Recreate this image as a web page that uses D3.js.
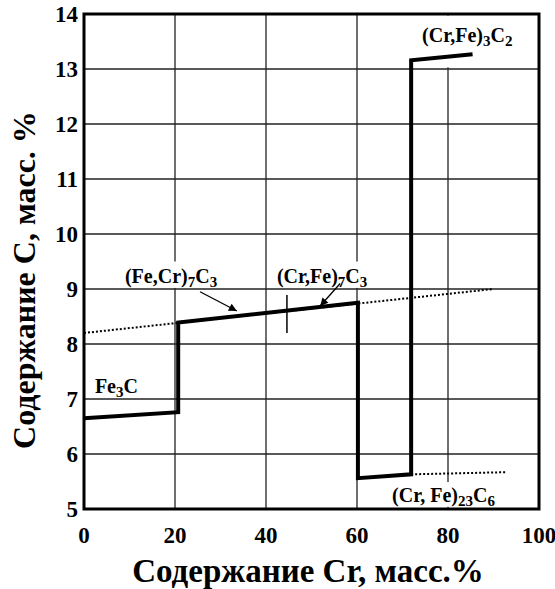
<!DOCTYPE html>
<html>
<head>
<meta charset="utf-8">
<script src="https://cdn.jsdelivr.net/npm/d3@7"></script>
<style>
  body { margin: 0; background: #fff; }
  text { font-family: "Liberation Serif", "Times New Roman", serif; font-weight: bold; fill: #000; }
</style>
</head>
<body>
<script>
// phase boundary line (Cr mass %, C mass %)
var crLine = [0, 20.7, 20.7, 60.2, 60.2, 71.9, 71.9, 85.4];
var cLine = [6.65, 6.76, 8.39, 8.75, 5.56, 5.63, 13.16, 13.27];
// dotted extrapolations
var crDot1 = [0, 90];
var cDot1 = [8.2, 9.0];
var crDot2 = [71.9, 93];
var cDot2 = [5.63, 5.67];
var xTicks = [0, 20, 40, 60, 80, 100];
var yTicks = [5, 6, 7, 8, 9, 10, 11, 12, 13, 14];

var width = 555, height = 589;
var margin = { left: 84, top: 14, right: 16, bottom: 80 };
var svg = d3.select('body').append('svg')
    .attr('width', width)
    .attr('height', height);

var x = d3.scaleLinear().domain([0, 100]).range([margin.left, width - margin.right]);
var y = d3.scaleLinear().domain([5, 14]).range([height - margin.bottom, margin.top]);

// grid
var grid = svg.append('g').attr('stroke', '#222').attr('stroke-width', 1.3);
grid.selectAll('.vg').data(xTicks.slice(1, -1)).enter().append('line')
    .attr('x1', d => x(d)).attr('x2', d => x(d))
    .attr('y1', y(5)).attr('y2', y(14));
grid.selectAll('.hg').data(yTicks.slice(1, -1)).enter().append('line')
    .attr('x1', x(0)).attr('x2', x(100))
    .attr('y1', d => y(d)).attr('y2', d => y(d));

// label boxes that hide the grid
var boxes = [
  [8.8, 9.5, 31.2, 9.02],
  [41.8, 9.5, 63, 9.02],
  [73, 13.97, 98, 13.03],
  [66.8, 5.49, 93, 5.04]
];
svg.append('g').selectAll('rect').data(boxes).enter().append('rect')
    .attr('x', d => x(d[0])).attr('y', d => y(d[1]))
    .attr('width', d => x(d[2]) - x(d[0])).attr('height', d => y(d[3]) - y(d[1]))
    .attr('fill', '#fff');

// frame
svg.append('rect')
    .attr('x', x(0)).attr('y', y(14))
    .attr('width', x(100) - x(0)).attr('height', y(5) - y(14))
    .attr('fill', 'none').attr('stroke', '#000').attr('stroke-width', 3);

var line = d3.line().x(d => x(d[0])).y(d => y(d[1]));

// dotted lines
[[crDot1, cDot1], [crDot2, cDot2]].forEach(function(s) {
  svg.append('path')
      .datum(d3.zip(s[0], s[1]))
      .attr('d', line)
      .attr('fill', 'none').attr('stroke', '#000')
      .attr('stroke-width', 2).attr('stroke-dasharray', '2,2');
});

// main line
svg.append('path')
    .datum(d3.zip(crLine, cLine))
    .attr('d', line)
    .attr('fill', 'none').attr('stroke', '#000')
    .attr('stroke-width', 4).attr('stroke-linejoin', 'miter');

// small marker across the line
svg.append('line')
    .attr('x1', x(44.6)).attr('x2', x(44.6))
    .attr('y1', y(8.89)).attr('y2', y(8.2))
    .attr('stroke', '#000').attr('stroke-width', 1.5);

// arrows
svg.append('defs').append('marker')
    .attr('id', 'ah').attr('viewBox', '0 0 10 10')
    .attr('refX', 10).attr('refY', 5)
    .attr('markerWidth', 10).attr('markerHeight', 8)
    .attr('markerUnits', 'userSpaceOnUse')
    .attr('orient', 'auto')
    .append('path').attr('d', 'M0,0L10,5L0,10Z').attr('fill', '#000');
var arrows = [[25.5, 8.95, 33.6, 8.6], [56.3, 9.1, 51.9, 8.69]];
svg.append('g').selectAll('line').data(arrows).enter().append('line')
    .attr('x1', d => x(d[0])).attr('y1', d => y(d[1]))
    .attr('x2', d => x(d[2])).attr('y2', d => y(d[3]))
    .attr('stroke', '#000').attr('stroke-width', 1.3)
    .attr('marker-end', 'url(#ah)');

// phase labels: [x, y, parts]; parts alternate normal/subscript
var labels = [
  [2.4, 7.11, ['Fe', '3', 'C']],
  [9.0, 9.11, ['(Fe,Cr)', '7', 'C', '3']],
  [42.4, 9.11, ['(Cr,Fe)', '7', 'C', '3']],
  [74.3, 13.49, ['(Cr,Fe)', '3', 'C', '2']],
  [67.7, 5.13, ['(Cr, Fe)', '23', 'C', '6']]
];
labels.forEach(function(l) {
  var t = svg.append('text')
      .attr('x', x(l[0])).attr('y', y(l[1]))
      .style('font-size', '20px');
  l[2].forEach(function(p, i) {
    var sub = i % 2 === 1;
    t.append('tspan')
        .style('font-size', sub ? '15px' : '20px')
        .attr('dy', i === 0 ? 0 : (sub ? 4 : -4))
        .text(p);
  });
});

// tick labels
svg.append('g').selectAll('text').data(xTicks).enter().append('text')
    .attr('x', d => x(d)).attr('y', 543)
    .attr('text-anchor', 'middle')
    .style('font-size', '23px')
    .text(d => d);
svg.append('g').selectAll('text').data(yTicks).enter().append('text')
    .attr('x', 78).attr('y', d => y(d) + 8)
    .attr('text-anchor', 'end')
    .style('font-size', '23px')
    .text(d => d);

// axis titles
svg.append('text')
    .attr('x', 308).attr('y', 582)
    .attr('text-anchor', 'middle')
    .style('font-size', '33px')
    .text('Содержание Cr, масс.%');
svg.append('text')
    .attr('transform', 'translate(35,280) rotate(-90)')
    .attr('text-anchor', 'middle')
    .style('font-size', '32px')
    .text('Содержание С, масс. %');
</script>
</body>
</html>
